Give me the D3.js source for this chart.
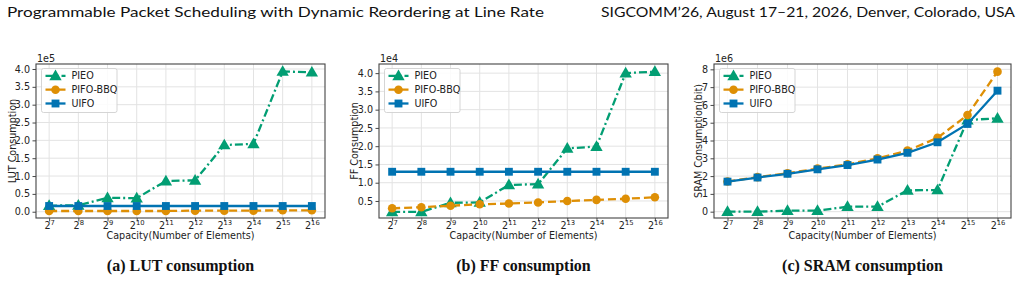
<!DOCTYPE html>
<html><head><meta charset="utf-8">
<script src="https://cdn.jsdelivr.net/npm/d3@7"></script>
<style>body{margin:0;background:#fff}svg{display:block}</style>
</head><body>
<svg id="c" width="1021" height="283"></svg>
<script>
// ---- data ----
const capExponents = [7, 8, 9, 10, 11, 12, 13, 14, 15, 16];
const seriesNames = ["PIEO", "PIFO-BBQ", "UIFO"];

const lutPIEO = [0.17, 0.18, 0.39, 0.38, 0.86, 0.88, 1.87, 1.90, 3.93, 3.91];
const lutBBQ  = [0.02, 0.02, 0.02, 0.02, 0.02, 0.03, 0.03, 0.03, 0.04, 0.04];
const lutUIFO = [0.16, 0.16, 0.16, 0.16, 0.16, 0.16, 0.16, 0.16, 0.16, 0.16];
const lutTicks = [0.0, 0.5, 1.0, 1.5, 2.0, 2.5, 3.0, 3.5, 4.0];

const ffPIEO = [0.20, 0.20, 0.45, 0.46, 0.94, 0.96, 1.94, 1.99, 4.00, 4.04];
const ffBBQ  = [0.30, 0.33, 0.37, 0.41, 0.43, 0.46, 0.50, 0.53, 0.56, 0.60];
const ffUIFO = [1.30, 1.30, 1.30, 1.30, 1.30, 1.30, 1.30, 1.30, 1.30, 1.30];
const ffTicks = [0.5, 1.0, 1.5, 2.0, 2.5, 3.0, 3.5, 4.0];

const sramPIEO = [0.00, 0.00, 0.06, 0.06, 0.28, 0.28, 1.20, 1.22, 5.15, 5.25];
const sramBBQ  = [1.70, 1.94, 2.16, 2.42, 2.66, 3.00, 3.43, 4.15, 5.43, 7.87];
const sramUIFO = [1.69, 1.92, 2.13, 2.38, 2.62, 2.93, 3.31, 3.90, 4.93, 6.80];
const sramTicks = [0, 1, 2, 3, 4, 5, 6, 7, 8];

const yLabels = ["LUT Consumption", "FF Consumption", "SRAM Consumption(bit)"];
const offsetTexts = ["1e5", "1e4", "1e6"];
const captions = ["(a) LUT consumption", "(b) FF consumption", "(c) SRAM consumption"];
const xLabel = "Capacity(Number of Elements)";
const headerLeft = "Programmable Packet Scheduling with Dynamic Reordering at Line Rate";
const headerRight = "SIGCOMM’26, August 17–21, 2026, Denver, Colorado, USA";

// ---- styling ----
const colors = {"PIEO": "#029e73", "PIFO-BBQ": "#de8f05", "UIFO": "#0173b2"};
const dashes = {"PIEO": "8,3,2,3", "PIFO-BBQ": "8,4", "UIFO": null};
const symbols = {"PIEO": d3.symbolTriangle, "PIFO-BBQ": d3.symbolCircle, "UIFO": d3.symbolSquare};
const symSize = {"PIEO": 66, "PIFO-BBQ": 58, "UIFO": 62};
const FONT = "DejaVu Sans, sans-serif";

const panels = [
  {data: [lutPIEO, lutBBQ, lutUIFO], ticks: lutTicks, fmt: d3.format(".1f"),
   box: {x0: 36, x1: 325, y0: 64, y1: 218}, ydom: [-0.176, 4.14], ylabX: 12.7},
  {data: [ffPIEO, ffBBQ, ffUIFO], ticks: ffTicks, fmt: d3.format(".1f"),
   box: {x0: 379, x1: 668, y0: 64, y1: 218}, ydom: [0.034, 4.25], ylabX: 354.5},
  {data: [sramPIEO, sramBBQ, sramUIFO], ticks: sramTicks, fmt: d3.format("d"),
   box: {x0: 714, x1: 1011, y0: 64, y1: 218}, ydom: [-0.355, 8.3], ylabX: 698.5}
];

const svg = d3.select("#c");

// header
svg.append("text").attr("x", 7).attr("y", 16.5).attr("font-family", "Lato, sans-serif")
  .attr("font-size", 14).attr("fill", "#111").attr("textLength", 537).attr("lengthAdjust", "spacingAndGlyphs")
  .text(headerLeft);
svg.append("text").attr("x", 601).attr("y", 16.5).attr("font-family", "Lato, sans-serif")
  .attr("font-size", 14).attr("fill", "#111").attr("textLength", 414).attr("lengthAdjust", "spacingAndGlyphs")
  .text(headerRight);

panels.forEach((p, pi) => {
  const b = p.box;
  const g = svg.append("g");
  const x = d3.scaleLinear().domain([6.55, 16.45]).range([b.x0, b.x1]);
  const y = d3.scaleLinear().domain(p.ydom).range([b.y1, b.y0]);

  // grid
  g.append("g").selectAll("line").data(capExponents).join("line")
    .attr("x1", d => x(d)).attr("x2", d => x(d)).attr("y1", b.y0).attr("y2", b.y1)
    .attr("stroke", "#e3e3e3").attr("stroke-width", 1);
  g.append("g").selectAll("line").data(p.ticks).join("line")
    .attr("y1", d => y(d)).attr("y2", d => y(d)).attr("x1", b.x0).attr("x2", b.x1)
    .attr("stroke", "#e3e3e3").attr("stroke-width", 1);

  // y axis
  const ya = g.append("g").attr("transform", `translate(${b.x0},0)`)
    .call(d3.axisLeft(y).tickValues(p.ticks).tickFormat(p.fmt).tickSize(3.5).tickPadding(2.5));
  ya.select(".domain").remove();
  ya.selectAll("line").attr("stroke", "#333").attr("stroke-width", 0.9);
  ya.selectAll("text").attr("font-family", FONT).attr("font-size", 9.6).attr("fill", "#222");

  // x axis
  const xa = g.append("g").attr("transform", `translate(0,${b.y1})`)
    .call(d3.axisBottom(x).tickValues(capExponents).tickSize(3.5).tickFormat(""));
  xa.select(".domain").remove();
  xa.selectAll("line").attr("stroke", "#333").attr("stroke-width", 0.9);
  xa.selectAll(".tick").each(function(d) {
    const t = d3.select(this).append("text").attr("y", 10.8).attr("dy", 0)
      .attr("font-family", FONT).attr("fill", "#222").attr("text-anchor", "middle");
    t.append("tspan").attr("font-size", 9.6).text("2");
    t.append("tspan").attr("font-size", 6.8).attr("dy", -4.3).text(String(d));
  });

  // spines
  g.append("rect").attr("x", b.x0).attr("y", b.y0).attr("width", b.x1 - b.x0).attr("height", b.y1 - b.y0)
    .attr("fill", "none").attr("stroke", "#444").attr("stroke-width", 1.1);

  // series
  seriesNames.forEach((name, si) => {
    const vals = p.data[si];
    const pts = capExponents.map((e, i) => [e, vals[i]]);
    const line = d3.line().x(d => x(d[0])).y(d => y(d[1]));
    g.append("path").attr("d", line(pts)).attr("fill", "none")
      .attr("stroke", colors[name]).attr("stroke-width", 2.3)
      .attr("stroke-dasharray", dashes[name]);
    g.append("g").selectAll("path").data(pts).join("path")
      .attr("transform", d => `translate(${x(d[0])},${y(d[1]) + (name === "PIEO" ? 0.8 : 0)})`)
      .attr("d", d3.symbol().type(symbols[name]).size(symSize[name]))
      .attr("fill", colors[name]);
  });

  // offset text
  g.append("text").attr("x", b.x0 + 1).attr("y", b.y0 - 2).attr("font-family", FONT)
    .attr("font-size", 9.6).attr("fill", "#222").text(offsetTexts[pi]);

  // y label
  g.append("text").attr("transform", `translate(${p.ylabX + 3},${(b.y0 + b.y1) / 2}) rotate(-90)`)
    .attr("text-anchor", "middle").attr("font-family", FONT).attr("font-size", 9.6).attr("fill", "#222")
    .text(yLabels[pi]);

  // x label
  g.append("text").attr("x", (b.x0 + b.x1) / 2).attr("y", 239).attr("text-anchor", "middle")
    .attr("font-family", FONT).attr("font-size", 9.6).attr("fill", "#222").text(xLabel);

  // legend
  const lx = b.x0 + 5.5, ly = b.y0 + 4.5;
  const lg = g.append("g").attr("transform", `translate(${lx},${ly})`);
  lg.append("rect").attr("width", 75.5).attr("height", 44).attr("rx", 2)
    .attr("fill", "#fff").attr("fill-opacity", 0.85).attr("stroke", "#d0d0d0").attr("stroke-width", 0.9);
  seriesNames.forEach((name, si) => {
    const yy = 7.4 + si * 13.8;
    lg.append("line").attr("x1", 4).attr("x2", 24).attr("y1", yy).attr("y2", yy)
      .attr("stroke", colors[name]).attr("stroke-width", 2.3).attr("stroke-dasharray", dashes[name]);
    lg.append("path").attr("transform", `translate(14,${yy + (name === "PIEO" ? 0.8 : 0)})`)
      .attr("d", d3.symbol().type(symbols[name]).size(symSize[name])).attr("fill", colors[name]);
    lg.append("text").attr("x", 30).attr("y", yy + 3.4).attr("font-family", FONT)
      .attr("font-size", 9.6).attr("fill", "#222").text(name);
  });

  // caption
  svg.append("text").attr("x", (b.x0 + b.x1) / 2).attr("y", 271).attr("text-anchor", "middle")
    .attr("font-family", "Liberation Serif, serif").attr("font-weight", "bold").attr("font-size", 16)
    .attr("fill", "#111").text(captions[pi]);
});
</script>
</body></html>
